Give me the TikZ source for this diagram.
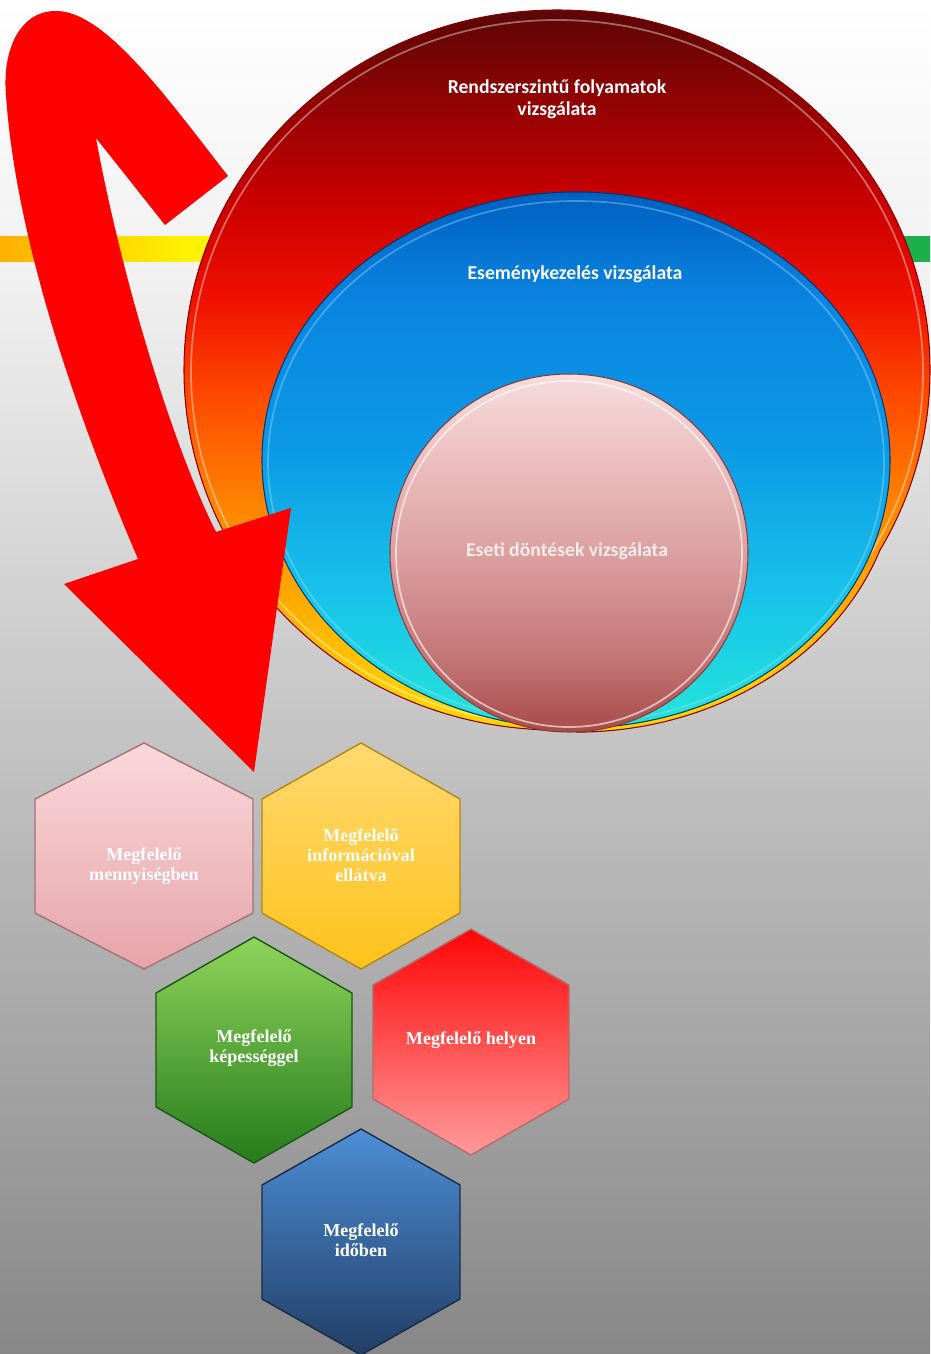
\documentclass[tikz,border=0pt]{standalone}
\usepackage{fontspec}
\newfontfamily\calfont{Carlito}
\newfontfamily\timesfont{Liberation Serif}
\usepackage{xcolor}
\usetikzlibrary{positioning,calc,shapes.geometric}

\definecolor{bandorange}{HTML}{FFB000}
\definecolor{bandyellow}{HTML}{FFF200}
\definecolor{bandgreen}{HTML}{1DB04A}
\definecolor{oyellow}{HTML}{FFD400}
\definecolor{oamber}{HTML}{FFAC00}
\definecolor{oorange}{HTML}{FF8200}
\definecolor{oredorange}{HTML}{FF4C00}
\definecolor{ored}{HTML}{F01000}
\definecolor{odeep}{HTML}{C80000}
\definecolor{odark}{HTML}{5C0606}
\definecolor{mcyan}{HTML}{22E0DC}
\definecolor{mltblue}{HTML}{18C4EA}
\definecolor{mblue}{HTML}{0C9AE6}
\definecolor{mmid}{HTML}{0A84E0}
\definecolor{mdark}{HTML}{0060C0}
\definecolor{pdark}{HTML}{A84A4A}
\definecolor{pmid}{HTML}{C27474}
\definecolor{pmid2}{HTML}{DCA0A0}
\definecolor{plight}{HTML}{EBBCBC}
\definecolor{ptop}{HTML}{F6DCDC}
\definecolor{pinkwhite}{HTML}{FBEDED}
\definecolor{hexpinktop}{HTML}{FAD8DC}
\definecolor{hexpinkbot}{HTML}{E6A4A8}
\definecolor{hexyeltop}{HTML}{FFDA72}
\definecolor{hexyelbot}{HTML}{FFC21A}
\definecolor{hexgrntop}{HTML}{8ED45A}
\definecolor{hexgrnbot}{HTML}{267C1C}
\definecolor{hexredtop}{HTML}{FF0606}
\definecolor{hexredbot}{HTML}{FF9A9A}
\definecolor{hexblutop}{HTML}{4D8FD6}
\definecolor{hexblubot}{HTML}{223E66}

\pgfdeclarehorizontalshading{bandshade}{100bp}{color(0bp)=(bandorange); color(25bp)=(bandorange); color(35bp)=(bandyellow); color(60bp)=(bandyellow); color(72bp)=(bandgreen); color(100bp)=(bandgreen)}
\pgfdeclareverticalshading{outershade}{100bp}{color(0bp)=(oyellow); color(27bp)=(oyellow); color(34bp)=(oamber); color(41bp)=(oorange); color(48bp)=(oredorange); color(55bp)=(ored); color(62bp)=(odeep); color(75bp)=(odark); color(100bp)=(odark)}
\pgfdeclareverticalshading{midshade}{100bp}{color(0bp)=(mcyan); color(27bp)=(mcyan); color(37bp)=(mltblue); color(51bp)=(mblue); color(65bp)=(mmid); color(75bp)=(mdark); color(100bp)=(mdark)}
\pgfdeclareverticalshading{innershade}{100bp}{color(0bp)=(pdark); color(25bp)=(pdark); color(35bp)=(pmid); color(50bp)=(pmid2); color(62bp)=(plight); color(75bp)=(ptop); color(100bp)=(ptop)}

\tikzset{
  circtext/.style={text=white, align=center, font=\calfont\bfseries\fontsize{11.2}{12.5}\selectfont, inner sep=0},
  hextext/.style={text=white, align=center, font=\timesfont\bfseries\fontsize{10.3}{11.3}\selectfont, inner sep=0},
  hexframe/.style={line width=0.8pt, line join=round},
  rimline/.style={draw=white, opacity=0.4, line width=1pt},
  outline/.style={draw=odeep!70!black, line width=0.6pt},
  bigarrow/.style={fill=red}
}

% o luc giac: ten, cx, cy, nua rong, mau tren, mau duoi, chu, y cua chu
\newcommand{\hexcell}[8]{%
  \draw[hexframe, top color=#5, bottom color=#6, draw=#6!70!black]
    (#2,#3-113) -- (#2+#4,#3-57) -- (#2+#4,#3+57) -- (#2,#3+113)
    -- (#2-#4,#3+57) -- (#2-#4,#3-57) -- cycle;
  \node[hextext] (#1) at (#2,#8) {#7};
}

\begin{document}
\begin{tikzpicture}[x=0.02cm, y=-0.02cm]
  \useasboundingbox (0,0) rectangle (930,1354);
  % nen
  \fill[top color=white, bottom color=black!5] (0,0) rectangle (930,237);
  \fill[top color=black!5, bottom color=black!47] (0,262) rectangle (930,1354);
  \fill[shading=bandshade] (0,237) rectangle (930,262);

  % elip ngoai (hop cua hai elip, phinh nhe o goc duoi phai)
  \fill[shading=outershade] (557,370) ellipse [x radius=373, y radius=360]
    (576,460) ellipse [x radius=322, y radius=272];
  \draw[outline] (557,730) arc[start angle=90, end angle=390, x radius=373, y radius=360];
  \draw[outline] (880,550) arc[start angle=19.3, end angle=90, x radius=322, y radius=272];
  \draw[rimline] (557,372) ellipse [x radius=366, y radius=352];
  % elip giua va hinh tron trong
  \draw[shading=midshade, draw=mdark!60!black, line width=0.6pt] (576,460) ellipse [x radius=314, y radius=268];
  \draw[rimline, draw=cyan!40] (576,462) ellipse [x radius=308, y radius=261];
  \draw[shading=innershade, draw=pdark!80!black, line width=0.6pt] (569,553) circle [radius=179];
  \draw[rimline, opacity=0.6] (569,554) circle [radius=173];

  \node[circtext] (sys) at (557,99) {Rendszerszintű folyamatok\\vizsgálata};
  \node[circtext] (evt) at (575,274) {Eseménykezelés vizsgálata};
  \node[circtext, text=pinkwhite] (dec) at (567,551) {Eseti döntések vizsgálata};

  % cac o luc giac
  \hexcell{qty}{144}{856}{109}{hexpinktop}{hexpinkbot}{Megfelelő\\mennyiségben}{866}
  \hexcell{info}{361}{856}{99}{hexyeltop}{hexyelbot}{Megfelelő\\információval\\ellátva}{855}
  \hexcell{skill}{254}{1050}{98}{hexgrntop}{hexgrnbot}{Megfelelő\\képességgel}{1048}
  \hexcell{place}{471}{1042}{98}{hexredtop}{hexredbot}{Megfelelő helyen}{1040}
  \hexcell{time}{361}{1242}{99}{hexblutop}{hexblubot}{Megfelelő\\időben}{1240}

  % mui ten do cong
  \fill[bigarrow] (228,176) .. controls (165,95) and (105,12) .. (57,11)
    .. controls (20,10) and (2,50) .. (6,95)
    .. controls (15,230) and (70,400) .. (138,559)
    -- (64,584) -- (254,772) -- (291,508) -- (216,532)
    .. controls (170,440) and (120,270) .. (96,138)
    -- (165,225) -- cycle;
\end{tikzpicture}
\end{document}
